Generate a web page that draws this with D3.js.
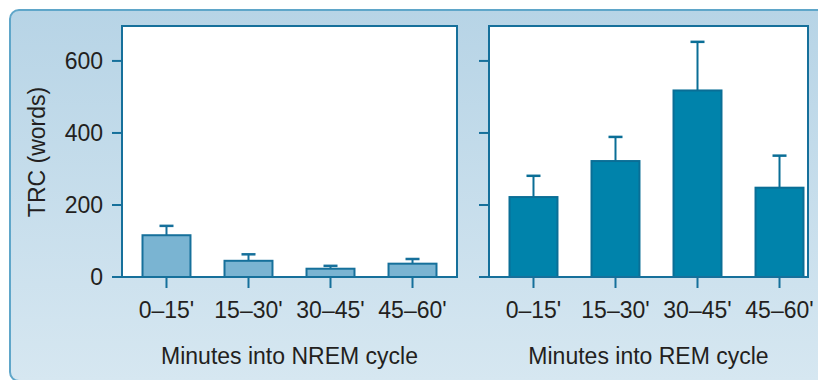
<!DOCTYPE html>
<html>
<head>
<meta charset="utf-8">
<script src="https://cdn.jsdelivr.net/npm/d3@7"></script>
<style>
  body { margin: 0; background: #ffffff; }
  svg { display: block; font-family: "Liberation Sans", Arial, sans-serif; }
</style>
</head>
<body>
<div id="chart"></div>
<script>
// 데이터
var categories = ["0\u201315'", "15\u201330'", "30\u201345'", "45\u201360'"];
var nremValues = [116, 45, 23, 37];
var nremErrors = [142, 63, 31, 50];
var remValues  = [222, 322, 518, 248];
var remErrors  = [281, 389, 653, 337];
var yTicks = [0, 200, 400, 600];

var W = 818, H = 380;
var svg = d3.select("#chart").append("svg")
  .attr("width", W).attr("height", H);

// 배경 박스 (그라데이션)
var defs = svg.append("defs");
var grad = defs.append("linearGradient")
  .attr("id", "bg").attr("x1", 0).attr("y1", 0).attr("x2", 0).attr("y2", 1);
grad.append("stop").attr("offset", "0%").attr("stop-color", "#b7d4e6");
grad.append("stop").attr("offset", "100%").attr("stop-color", "#d6e7f1");

svg.append("rect")
  .attr("x", 10).attr("y", 10)
  .attr("width", 830).attr("height", 371)
  .attr("rx", 9).attr("ry", 9)
  .attr("fill", "url(#bg)")
  .attr("stroke", "#5fa6c9")
  .attr("stroke-width", 2);

// 축 스케일
var plotTop = 26, plotBase = 277;
var y = d3.scaleLinear().domain([0, 697]).range([plotBase, plotTop]);
var x = d3.scaleBand().domain(categories).range([0, 335])
  .paddingInner(0.415).paddingOuter(0.25);

var axisColor = "#16709b";
var textColor = "#231f20";
var fontSize = 23;

function drawPanel(left, width, values, errors, fill, stroke, title, showLabels) {
  var g = svg.append("g").attr("transform", "translate(" + left + ",0)");

  // 플롯 영역
  g.append("rect")
    .attr("x", 0).attr("y", plotTop)
    .attr("width", width).attr("height", plotBase - plotTop)
    .attr("fill", "#ffffff")
    .attr("stroke", axisColor)
    .attr("stroke-width", 2);

  // y축 틱
  g.selectAll(".ytick").data(yTicks).enter().append("line")
    .attr("x1", -10).attr("x2", 0)
    .attr("y1", function(d) { return y(d); })
    .attr("y2", function(d) { return y(d); })
    .attr("stroke", axisColor).attr("stroke-width", 2);

  if (showLabels) {
    g.selectAll(".ylab").data(yTicks).enter().append("text")
      .attr("x", -19)
      .attr("y", function(d) { return y(d); })
      .attr("dy", "0.35em")
      .attr("text-anchor", "end")
      .attr("font-size", fontSize)
      .attr("fill", textColor)
      .text(function(d) { return d; });
  }

  // 에러바
  var bars = g.selectAll(".bar").data(categories).enter().append("g");
  bars.append("line")
    .attr("x1", function(d) { return x(d) + x.bandwidth() / 2; })
    .attr("x2", function(d) { return x(d) + x.bandwidth() / 2; })
    .attr("y1", function(d, i) { return y(values[i]); })
    .attr("y2", function(d, i) { return y(errors[i]); })
    .attr("stroke", stroke).attr("stroke-width", 2);
  bars.append("line")
    .attr("x1", function(d) { return x(d) + x.bandwidth() / 2 - 7; })
    .attr("x2", function(d) { return x(d) + x.bandwidth() / 2 + 7; })
    .attr("y1", function(d, i) { return y(errors[i]); })
    .attr("y2", function(d, i) { return y(errors[i]); })
    .attr("stroke", stroke).attr("stroke-width", 2.5);

  // 막대
  bars.append("rect")
    .attr("x", function(d) { return x(d); })
    .attr("y", function(d, i) { return y(values[i]); })
    .attr("width", x.bandwidth())
    .attr("height", function(d, i) { return plotBase - y(values[i]); })
    .attr("fill", fill)
    .attr("stroke", stroke)
    .attr("stroke-width", 2);

  // 기준선
  g.append("line")
    .attr("x1", -10).attr("x2", width)
    .attr("y1", plotBase).attr("y2", plotBase)
    .attr("stroke", axisColor).attr("stroke-width", 2);

  // x축 틱 + 라벨
  g.selectAll(".xtick").data(categories).enter().append("line")
    .attr("x1", function(d) { return x(d) + x.bandwidth() / 2; })
    .attr("x2", function(d) { return x(d) + x.bandwidth() / 2; })
    .attr("y1", plotBase).attr("y2", plotBase + 11)
    .attr("stroke", axisColor).attr("stroke-width", 2);

  g.selectAll(".xlab").data(categories).enter().append("text")
    .attr("x", function(d) { return x(d) + x.bandwidth() / 2; })
    .attr("y", 310)
    .attr("dy", "0.35em")
    .attr("text-anchor", "middle")
    .attr("font-size", fontSize)
    .attr("fill", textColor)
    .text(function(d) { return d; });

  g.append("text")
    .attr("x", width / 2)
    .attr("y", 356)
    .attr("dy", "0.35em")
    .attr("text-anchor", "middle")
    .attr("font-size", fontSize)
    .attr("fill", textColor)
    .text(title);
}

drawPanel(122, 335, nremValues, nremErrors, "#7ab4d2", "#16709b", "Minutes into NREM cycle", true);
drawPanel(489, 319, remValues, remErrors, "#0083ab", "#0a6e96", "Minutes into REM cycle", false);

// y축 제목
svg.append("text")
  .attr("transform", "translate(37,152) rotate(-90)")
  .attr("dy", "0.35em")
  .attr("text-anchor", "middle")
  .attr("font-size", fontSize)
  .attr("fill", textColor)
  .text("TRC (words)");
</script>
</body>
</html>
